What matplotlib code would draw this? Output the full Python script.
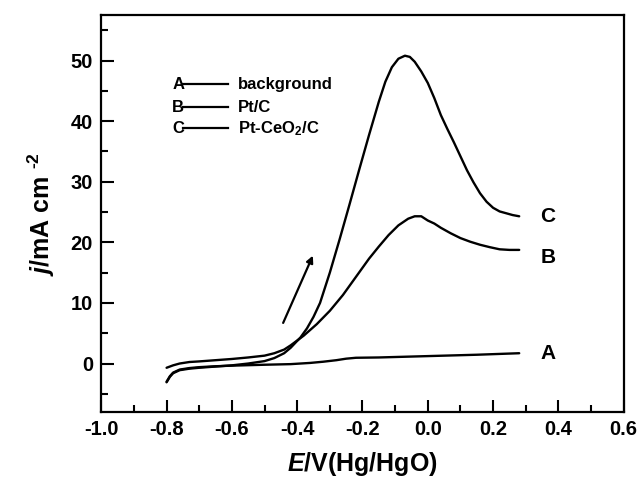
import numpy as np
import matplotlib
matplotlib.use("Agg")
import matplotlib.pyplot as plt
from matplotlib.ticker import MultipleLocator, FormatStrFormatter

plt.rcParams["font.family"] = ["Liberation Sans", "DejaVu Sans"]
plt.rcParams["font.weight"] = "bold"
plt.rcParams["axes.labelweight"] = "bold"
plt.rcParams["mathtext.fontset"] = "custom"
plt.rcParams["mathtext.rm"] = "Liberation Sans:bold"
plt.rcParams["mathtext.bf"] = "Liberation Sans:bold"
plt.rcParams["mathtext.it"] = "Liberation Sans:italic:bold"

# curve A: background
a_x = [-0.80, -0.79, -0.78, -0.76, -0.73, -0.70, -0.65, -0.60, -0.50, -0.42, -0.36, -0.32,
       -0.28, -0.25, -0.22, -0.15, -0.05, 0.05, 0.15, 0.28]
a_y = [-3.0, -2.1, -1.5, -1.0, -0.75, -0.6, -0.45, -0.35, -0.2, -0.1, 0.1, 0.3,
       0.55, 0.8, 0.95, 1.0, 1.15, 1.3, 1.45, 1.7]

# curve B: Pt/C
b_x = [-0.80, -0.78, -0.76, -0.73, -0.70, -0.65, -0.60, -0.55, -0.50, -0.47, -0.44, -0.42,
       -0.38, -0.34, -0.30, -0.26, -0.22, -0.18, -0.15, -0.12, -0.09, -0.06, -0.04, -0.02,
       0.00, 0.02, 0.04, 0.07, 0.10, 0.13, 0.16, 0.19, 0.22, 0.25, 0.28]
b_y = [-0.7, -0.3, 0.0, 0.25, 0.35, 0.55, 0.75, 1.0, 1.3, 1.7, 2.3, 3.0,
       4.6, 6.5, 8.7, 11.3, 14.3, 17.3, 19.3, 21.2, 22.8, 23.9, 24.3, 24.3,
       23.6, 23.1, 22.4, 21.5, 20.7, 20.1, 19.6, 19.2, 18.85, 18.75, 18.75]

# curve C: Pt-CeO2/C
c_x = [-0.80, -0.79, -0.78, -0.76, -0.73, -0.70, -0.65, -0.60, -0.55, -0.50, -0.47, -0.44,
       -0.42, -0.39, -0.37, -0.35, -0.33, -0.30, -0.27, -0.24, -0.21, -0.18, -0.15, -0.13,
       -0.11, -0.09, -0.07, -0.055, -0.04, -0.02, 0.00, 0.02, 0.04, 0.06, 0.08, 0.10,
       0.12, 0.14, 0.16, 0.18, 0.20, 0.22, 0.24, 0.26, 0.28]
c_y = [-3.1, -2.2, -1.6, -1.1, -0.85, -0.7, -0.5, -0.3, 0.0, 0.4, 0.9, 1.7,
       2.6, 4.3, 5.8, 7.7, 10.0, 15.0, 20.5, 26.2, 32.0, 37.7, 43.2, 46.5,
       48.9, 50.3, 50.8, 50.6, 49.8, 48.2, 46.3, 43.8, 41.0, 38.7, 36.5, 34.2,
       31.9, 29.9, 28.1, 26.7, 25.7, 25.1, 24.8, 24.5, 24.3]

legend_letters = ["A", "B", "C"]
legend_names = ["background", "Pt/C", r"Pt-CeO$_2$/C"]

fig = plt.figure(figsize=(6.41, 4.87), dpi=100)
ax = fig.add_axes([0.158, 0.154, 0.815, 0.815])

for xs, ys in [(a_x, a_y), (b_x, b_y), (c_x, c_y)]:
    ax.plot(xs, ys, color="black", lw=1.7, solid_joinstyle="round", solid_capstyle="round")

# end labels for the curves
ax.text(0.345, a_y[-1], "A", fontsize=15, fontweight="bold", va="center")
ax.text(0.345, b_y[-1] - 1.2, "B", fontsize=15, fontweight="bold", va="center")
ax.text(0.345, c_y[-1], "C", fontsize=15, fontweight="bold", va="center")

# scan direction arrow
ax.annotate("", xy=(-0.352, 17.8), xytext=(-0.443, 6.7),
            arrowprops=dict(arrowstyle="-|>", color="black", lw=1.6,
                            mutation_scale=10, shrinkA=0, shrinkB=0))

# hand-made legend
rows_y = [0.826, 0.768, 0.715]
for letter, name, ry in zip(legend_letters, legend_names, rows_y):
    ax.text(0.136, ry, letter, transform=ax.transAxes, fontsize=12,
            fontweight="bold", va="center")
    ax.plot([0.157, 0.243], [ry, ry], transform=ax.transAxes, color="black", lw=1.6)
    ax.text(0.262, ry, name, transform=ax.transAxes, fontsize=12,
            fontweight="bold", va="center")

ax.set_xlim(-1.0, 0.6)
ax.set_ylim(-8, 57.5)
ax.xaxis.set_major_locator(MultipleLocator(0.2))
ax.xaxis.set_minor_locator(MultipleLocator(0.1))
ax.yaxis.set_major_locator(MultipleLocator(10))
ax.yaxis.set_minor_locator(MultipleLocator(5))
ax.xaxis.set_major_formatter(FormatStrFormatter("%.1f"))

ax.tick_params(which="both", direction="in", width=1.5, labelsize=14.5, top=False, right=False)
ax.tick_params(which="major", length=9, pad=6)
ax.tick_params(which="minor", length=5)
for lab in ax.get_xticklabels() + ax.get_yticklabels():
    lab.set_fontweight("bold")
for sp in ax.spines.values():
    sp.set_linewidth(1.6)

ax.set_xlabel(r"$\mathit{E}$/V(Hg/HgO)", fontsize=18, fontweight="bold", labelpad=8)
ax.set_ylabel(r"$\mathit{j}$/mA cm $^{\text{-2}}$", fontsize=18, fontweight="bold", labelpad=10)

fig.savefig("out.png", dpi=100)
